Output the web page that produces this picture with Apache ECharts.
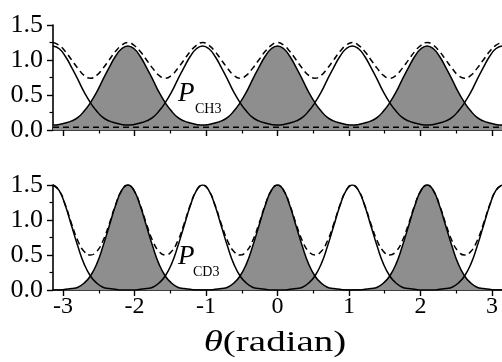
<!DOCTYPE html>
<html>
<head>
<meta charset="utf-8">
<script src="https://cdn.jsdelivr.net/npm/echarts@6/dist/echarts.min.js"></script>
<style>html,body{margin:0;padding:0;background:#fff;}#c{width:502px;height:362px;}</style>
</head>
<body>
<div id="c"></div>
<script>
// sample angles (degrees)
const thetaDeg = [-180,-175,-170,-165,-160,-155,-150,-145,-140,-135,-130,-125,-120,-115,-110,-105,-100,-95,-90,-85,-80,-75,-70,-65,-60,-55,-50,-45,-40,-35,-30,-25,-20,-15,-10,-5,0,5,10,15,20,25,30,35,40,45,50,55,60,65,70,75,80,85,90,95,100,105,110,115,120,125,130,135,140,145,150,155,160,165,170,175,180];

// top panel (CH3)
const ch3Grey = [0.07,0.08,0.10,0.13,0.18,0.27,0.39,0.54,0.72,0.89,1.05,1.16,1.20,1.16,1.05,0.89,0.72,0.54,0.39,0.27,0.18,0.13,0.10,0.08,
                 0.07,0.08,0.10,0.13,0.18,0.27,0.39,0.54,0.72,0.89,1.05,1.16,1.20,1.16,1.05,0.89,0.72,0.54,0.39,0.27,0.18,0.13,0.10,0.08,
                 0.07,0.08,0.10,0.13,0.18,0.27,0.39,0.54,0.72,0.89,1.05,1.16,1.20,1.16,1.05,0.89,0.72,0.54,0.39,0.27,0.18,0.13,0.10,0.08,
                 0.07];
const ch3White = [1.20,1.16,1.05,0.89,0.72,0.54,0.39,0.27,0.18,0.13,0.10,0.08,0.07,0.08,0.10,0.13,0.18,0.27,0.39,0.54,0.72,0.89,1.05,1.16,
                  1.20,1.16,1.05,0.89,0.72,0.54,0.39,0.27,0.18,0.13,0.10,0.08,0.07,0.08,0.10,0.13,0.18,0.27,0.39,0.54,0.72,0.89,1.05,1.16,
                  1.20,1.16,1.05,0.89,0.72,0.54,0.39,0.27,0.18,0.13,0.10,0.08,0.07,0.08,0.10,0.13,0.18,0.27,0.39,0.54,0.72,0.89,1.05,1.16,
                  1.20];
const ch3Total = [1.25,1.21,1.12,1.00,0.88,0.78,0.74,0.78,0.88,1.00,1.12,1.21,
                  1.25,1.21,1.12,1.00,0.88,0.78,0.74,0.78,0.88,1.00,1.12,1.21,
                  1.25,1.21,1.12,1.00,0.88,0.78,0.74,0.78,0.88,1.00,1.12,1.21,
                  1.25,1.21,1.12,1.00,0.88,0.78,0.74,0.78,0.88,1.00,1.12,1.21,
                  1.25,1.21,1.12,1.00,0.88,0.78,0.74,0.78,0.88,1.00,1.12,1.21,
                  1.25,1.21,1.12,1.00,0.88,0.78,0.74,0.78,0.88,1.00,1.12,1.21,
                  1.25];
const ch3BaseDeg = [-180, 180];
const ch3Base = [0.04, 0.04];

// bottom panel (CD3)
const cd3Grey = [0.00,0.00,0.01,0.02,0.04,0.10,0.20,0.37,0.62,0.91,1.20,1.42,1.50,1.42,1.20,0.91,0.62,0.37,0.20,0.10,0.04,0.02,0.01,0.00,
                 0.00,0.00,0.01,0.02,0.04,0.10,0.20,0.37,0.62,0.91,1.20,1.42,1.50,1.42,1.20,0.91,0.62,0.37,0.20,0.10,0.04,0.02,0.01,0.00,
                 0.00,0.00,0.01,0.02,0.04,0.10,0.20,0.37,0.62,0.91,1.20,1.42,1.50,1.42,1.20,0.91,0.62,0.37,0.20,0.10,0.04,0.02,0.01,0.00,
                 0.00];
const cd3White = [1.50,1.42,1.20,0.91,0.62,0.37,0.20,0.10,0.04,0.02,0.01,0.00,0.00,0.00,0.01,0.02,0.04,0.10,0.20,0.37,0.62,0.91,1.20,1.42,
                  1.50,1.42,1.20,0.91,0.62,0.37,0.20,0.10,0.04,0.02,0.01,0.00,0.00,0.00,0.01,0.02,0.04,0.10,0.20,0.37,0.62,0.91,1.20,1.42,
                  1.50,1.42,1.20,0.91,0.62,0.37,0.20,0.10,0.04,0.02,0.01,0.00,0.00,0.00,0.01,0.02,0.04,0.10,0.20,0.37,0.62,0.91,1.20,1.42,
                  1.50];
const cd3Total = [1.50,1.42,1.21,0.94,0.70,0.55,0.50,0.55,0.70,0.94,1.21,1.42,
                  1.50,1.42,1.21,0.94,0.70,0.55,0.50,0.55,0.70,0.94,1.21,1.42,
                  1.50,1.42,1.21,0.94,0.70,0.55,0.50,0.55,0.70,0.94,1.21,1.42,
                  1.50,1.42,1.21,0.94,0.70,0.55,0.50,0.55,0.70,0.94,1.21,1.42,
                  1.50,1.42,1.21,0.94,0.70,0.55,0.50,0.55,0.70,0.94,1.21,1.42,
                  1.50,1.42,1.21,0.94,0.70,0.55,0.50,0.55,0.70,0.94,1.21,1.42,
                  1.50];

// axis ticks
const xTicks = [-3,-2,-1,0,1,2,3];
const xMinorTicks = [-2.5,-1.5,-0.5,0.5,1.5,2.5];
const yMin = 0, yMax = 1.5, yStep = 0.5;

const SERIF = 'Liberation Serif';
const toPts = (deg, vals) => deg.map((d, i) => [d * Math.PI / 180, vals[i]]);

const chart = echarts.init(document.getElementById('c'), null, {renderer: 'canvas'});

function xMain(gridIndex, showLabels) {
  return {
    type: 'value', gridIndex, min: -Math.PI, max: Math.PI, position: 'bottom',
    axisLine: {show: true, onZero: false, lineStyle: {color: '#000', width: 1.6}},
    axisTick: {show: true, customValues: xTicks, length: 6, lineStyle: {color: '#000', width: 1.4}},
    axisLabel: {show: showLabels, customValues: xTicks, margin: 5, color: '#000',
                fontFamily: SERIF, fontSize: 24,
                formatter: v => '{s|' + String(v) + '}',
                rich: {s: {fontFamily: SERIF, fontSize: 24, color: '#000'}}},
    splitLine: {show: false}
  };
}
function xMinor(gridIndex) {
  return {
    type: 'value', gridIndex, min: -Math.PI, max: Math.PI, position: 'bottom', offset: 0,
    axisLine: {show: false, onZero: false},
    axisTick: {show: true, customValues: xMinorTicks, length: 3.5, lineStyle: {color: '#000', width: 1.2}},
    axisLabel: {show: false},
    splitLine: {show: false}
  };
}
function yAx(gridIndex) {
  return {
    type: 'value', gridIndex, min: yMin, max: yMax, interval: yStep, position: 'left',
    axisLine: {show: true, onZero: false, lineStyle: {color: '#000', width: 1.6}},
    axisTick: {show: true, length: 6, lineStyle: {color: '#000', width: 1.4}},
    minorTick: {show: true, splitNumber: 2, length: 3.5, lineStyle: {color: '#000', width: 1.2}},
    axisLabel: {margin: 10, color: '#000', fontFamily: SERIF, fontSize: 26,
                formatter: v => '{s|' + v.toFixed(1) + '}',
                rich: {s: {fontFamily: SERIF, fontSize: 26, color: '#000'}}},
    splitLine: {show: false}, minorSplitLine: {show: false}
  };
}
const lineBase = {type: 'line', showSymbol: false, symbol: 'none', smooth: true, animation: false};
const GREY = '#8e8e8e';

chart.setOption({
  animation: false,
  textStyle: {fontFamily: SERIF},
  grid: [
    {left: 53, right: 0, top: 25, height: 105},
    {left: 53, right: 0, top: 185, height: 105}
  ],
  xAxis: [xMain(0, false), xMinor(0), xMain(1, true), xMinor(1)],
  yAxis: [yAx(0), yAx(1)],
  series: [
    Object.assign({}, lineBase, {name: 'CH3 filled', xAxisIndex: 0, yAxisIndex: 0, data: toPts(thetaDeg, ch3Grey),
      lineStyle: {color: '#000', width: 1.5}, areaStyle: {color: GREY, opacity: 1}, z: 2}),
    Object.assign({}, lineBase, {name: 'CH3 open', xAxisIndex: 0, yAxisIndex: 0, data: toPts(thetaDeg, ch3White),
      lineStyle: {color: '#000', width: 1.5}, z: 3}),
    Object.assign({}, lineBase, {name: 'CH3 total', xAxisIndex: 0, yAxisIndex: 0, data: toPts(thetaDeg, ch3Total),
      lineStyle: {color: '#000', width: 1.5, type: [6, 4]}, z: 4}),
    Object.assign({}, lineBase, {name: 'CH3 base', smooth: false, xAxisIndex: 0, yAxisIndex: 0, data: toPts(ch3BaseDeg, ch3Base),
      lineStyle: {color: '#000', width: 1.4, type: [6, 4]}, z: 4}),
    Object.assign({}, lineBase, {name: 'CD3 filled', xAxisIndex: 2, yAxisIndex: 1, data: toPts(thetaDeg, cd3Grey),
      lineStyle: {color: '#000', width: 1.5}, areaStyle: {color: GREY, opacity: 1}, z: 2}),
    Object.assign({}, lineBase, {name: 'CD3 open', xAxisIndex: 2, yAxisIndex: 1, data: toPts(thetaDeg, cd3White),
      lineStyle: {color: '#000', width: 1.5}, z: 3}),
    Object.assign({}, lineBase, {name: 'CD3 total', xAxisIndex: 2, yAxisIndex: 1, data: toPts(thetaDeg, cd3Total),
      lineStyle: {color: '#000', width: 1.5, type: [6, 4]}, z: 4})
  ],
  graphic: [
    {type: 'text', x: 178, y: 94, z: 10, style: {text: 'P', fill: '#000', fontStyle: 'italic', fontSize: 27, fontFamily: SERIF, align: 'left', verticalAlign: 'middle'}},
    {type: 'text', x: 195, y: 109, z: 10, style: {text: 'CH3', fill: '#000', fontSize: 14, fontFamily: SERIF, align: 'left', verticalAlign: 'middle'}},
    {type: 'text', x: 178, y: 257, z: 10, style: {text: 'P', fill: '#000', fontStyle: 'italic', fontSize: 27, fontFamily: SERIF, align: 'left', verticalAlign: 'middle'}},
    {type: 'text', x: 193, y: 272, z: 10, style: {text: 'CD3', fill: '#000', fontSize: 14, fontFamily: SERIF, align: 'left', verticalAlign: 'middle'}},
    {type: 'text', x: 275, y: 343, scaleX: 1.3, z: 10, style: {
      text: '{t|θ}{r|(radian)}', align: 'center', verticalAlign: 'middle', fill: '#000',
      rich: {t: {fontStyle: 'italic', fontSize: 30, fontFamily: SERIF, fill: '#000'},
             r: {fontSize: 30, fontFamily: SERIF, fill: '#000'}}}}
  ]
});
</script>
</body>
</html>
